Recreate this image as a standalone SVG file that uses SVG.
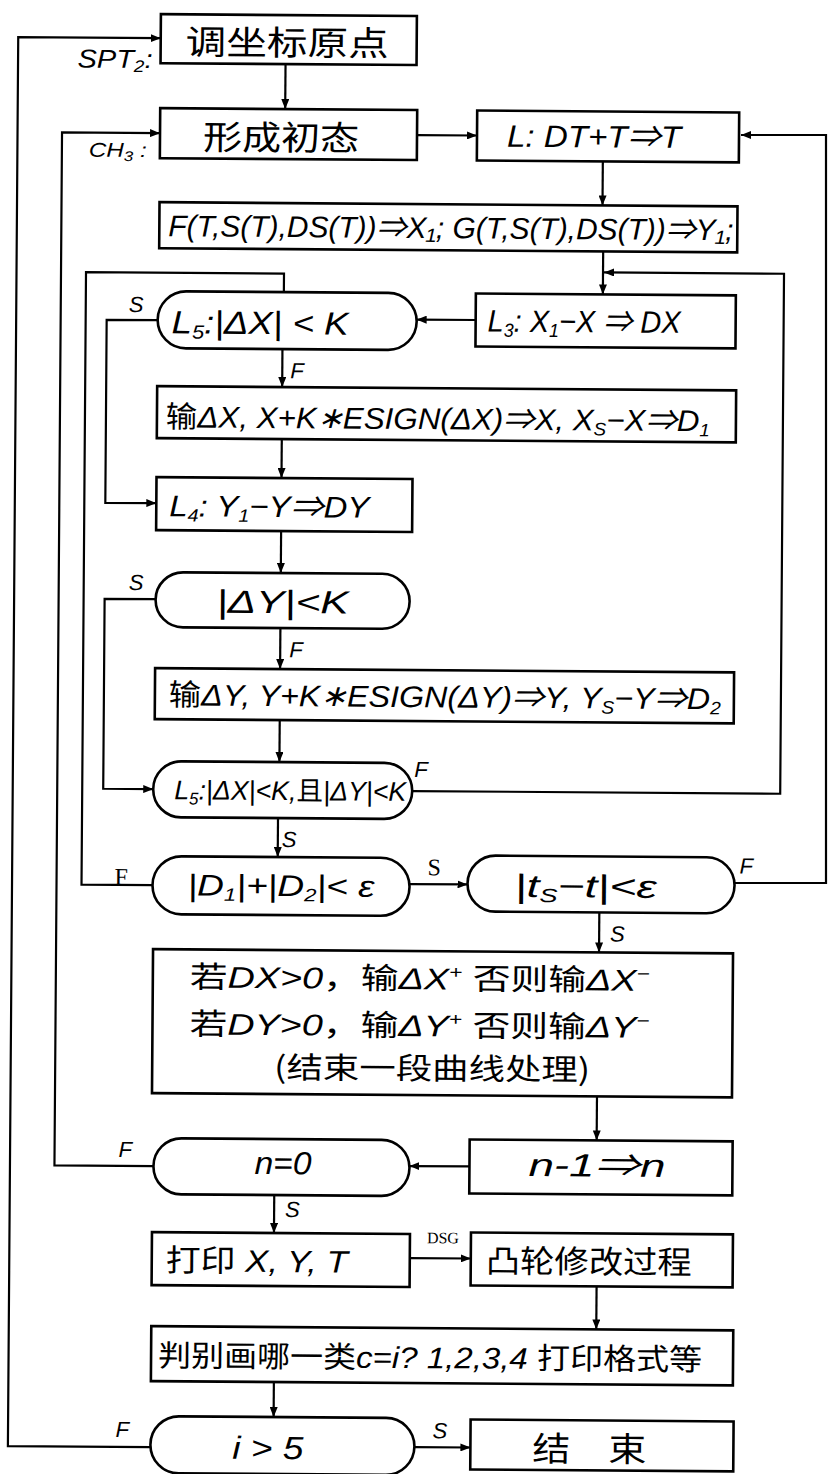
<svg xmlns="http://www.w3.org/2000/svg" width="828" height="1474" viewBox="0 0 828 1474">
<style>
.b{fill:#fff;stroke:#000;stroke-width:2.6}
.c{fill:none;stroke:#000;stroke-width:2.2}
.t{font-family:"Liberation Sans","Noto Sans CJK SC",sans-serif;font-style:italic;fill:#000}
.cj{font-family:"Noto Sans CJK SC",sans-serif;font-style:normal}
.l{font-family:"Liberation Sans",sans-serif;font-style:italic;font-size:22px;fill:#000}
.s{font-family:"Liberation Serif",serif;fill:#000}
</style>
<defs>
<marker id="a" viewBox="0 0 10 8" refX="10" refY="4" markerWidth="10" markerHeight="8" markerUnits="userSpaceOnUse" orient="auto">
<path d="M0,0 L10,4 L0,8 z" fill="#000"/>
</marker>
</defs>
<rect width="828" height="1474" fill="#fff"/>
<g transform="rotate(0.42)">
<g id="connectors">
<path class="c" d="M286,62 V107" marker-end="url(#a)"/>
<path class="c" d="M418,132 H478" marker-end="url(#a)"/>
<path class="c" d="M604,157 V201" marker-end="url(#a)"/>
<path class="c" d="M605,247 V290" marker-end="url(#a)"/>
<path class="c" d="M418,788 H786 V268 H606" marker-end="url(#a)"/>
<path class="c" d="M478,316.5 H419" marker-end="url(#a)"/>
<path class="c" d="M160,319 H109 V502 H160" marker-end="url(#a)"/>
<path class="c" d="M285,347 V385" marker-end="url(#a)"/>
<path class="c" d="M285,437 V476" marker-end="url(#a)"/>
<path class="c" d="M285,529 V571" marker-end="url(#a)"/>
<path class="c" d="M160,598 H109 V788 H159" marker-end="url(#a)"/>
<path class="c" d="M285,626 V667" marker-end="url(#a)"/>
<path class="c" d="M285,718 V760" marker-end="url(#a)"/>
<path class="c" d="M284,816 V855" marker-end="url(#a)"/>
<path class="c" d="M159,884 H88 V271.5 H286 V290"/>
<path class="c" d="M416,881 H474" marker-end="url(#a)"/>
<path class="c" d="M606,908 V948" marker-end="url(#a)"/>
<path class="c" d="M605,1092 V1136" marker-end="url(#a)"/>
<path class="c" d="M478,1163 H418" marker-end="url(#a)"/>
<path class="c" d="M162,1165 H63 V132 H161" marker-end="url(#a)"/>
<path class="c" d="M283,1193 V1231" marker-end="url(#a)"/>
<path class="c" d="M419,1255 H480" marker-end="url(#a)"/>
<path class="c" d="M606,1282 V1325" marker-end="url(#a)"/>
<path class="c" d="M284,1380 V1415" marker-end="url(#a)"/>
<path class="c" d="M161,1446 H18.5 V37 H161" marker-end="url(#a)"/>
<path class="c" d="M425,1444 H481" marker-end="url(#a)"/>
<text class="l" x="78" y="67" style="font-size:26px" textLength="75" lengthAdjust="spacingAndGlyphs">SPT<tspan style="font-size:17px" dy="4">2</tspan><tspan dy="-4">:</tspan></text>
<text class="l" x="90" y="156" style="font-size:20px" textLength="58" lengthAdjust="spacingAndGlyphs">CH<tspan style="font-size:14px" dy="4">3</tspan><tspan dy="-4"> :</tspan></text>
<text class="l" x="131" y="311">S</text>
<text class="l" x="293" y="376">F</text>
<text class="l" x="133" y="589">S</text>
<text class="l" x="294" y="655">F</text>
<text class="l" x="420" y="774">F</text>
<text class="l" x="288" y="845">S</text>
<text class="s" x="121" y="884" font-size="24">F</text>
<text class="s" x="434" y="872" font-size="24">S</text>
<text class="l" x="746" y="868">F</text>
<text class="l" x="617" y="937">S</text>
<text class="l" x="127" y="1156">F</text>
<text class="l" x="294" y="1215">S</text>
<text class="s" x="452" y="1240" font-size="16" text-anchor="middle">DSG</text>
<text class="l" x="126" y="1436">F</text>
<text class="l" x="443" y="1435">S</text>
</g>
<g id="n1"><rect class="b" x="161" y="13" width="256" height="49"/><text class="t cj" x="186" y="53" font-size="34" textLength="203" lengthAdjust="spacingAndGlyphs">调坐标原点</text></g>
<g id="n2"><rect class="b" x="161" y="107" width="257" height="50"/><text class="t cj" x="204" y="148" font-size="34" textLength="156" lengthAdjust="spacingAndGlyphs">形成初态</text></g>
<g id="n3"><rect class="b" x="478" y="107" width="262" height="50"/><text class="t" x="508" y="143" font-size="31" textLength="174" lengthAdjust="spacingAndGlyphs">L: DT+T⇒T</text></g>
<g id="n4"><rect class="b" x="161" y="201" width="578" height="46"/><text class="t" x="170" y="235" font-size="30" textLength="565" lengthAdjust="spacingAndGlyphs">F(T,S(T),DS(T))⇒X₁; G(T,S(T),DS(T))⇒Y₁;</text></g>
<g id="n5"><rect class="b" x="478" y="290" width="260" height="53"/><text class="t" x="490" y="328" font-size="31" textLength="193" lengthAdjust="spacingAndGlyphs">L<tspan font-size="19" dy="5">3</tspan><tspan dy="-5">: X</tspan><tspan font-size="19" dy="5">1</tspan><tspan dy="-5">−X ⇒ DX</tspan></text></g>
<g id="n6"><rect class="b" x="160" y="290" width="259" height="57" rx="28.5"/><text class="t" x="174" y="332" font-size="32" textLength="177" lengthAdjust="spacingAndGlyphs">L<tspan font-size="19" dy="5">5</tspan><tspan dy="-5">:|ΔX| &lt; K</tspan></text></g>
<g id="n7"><rect class="b" x="160" y="385" width="579" height="52"/><text class="t" x="169" y="426" font-size="30" textLength="544" lengthAdjust="spacingAndGlyphs"><tspan class="cj">输</tspan>ΔX, X+K∗ESIGN(ΔX)⇒X, X<tspan font-size="18" dy="5">S</tspan><tspan dy="-5">−X⇒D</tspan><tspan font-size="18" dy="5">1</tspan></text></g>
<g id="n8"><rect class="b" x="160" y="476" width="256" height="53"/><text class="t" x="173" y="515" font-size="30" textLength="200" lengthAdjust="spacingAndGlyphs">L<tspan font-size="18" dy="5">4</tspan><tspan dy="-5">: Y</tspan><tspan font-size="18" dy="5">1</tspan><tspan dy="-5">−Y⇒DY</tspan></text></g>
<g id="n9"><rect class="b" x="160" y="571" width="254" height="55" rx="27.5"/><text class="t" x="221" y="611" font-size="32" textLength="132" lengthAdjust="spacingAndGlyphs">|ΔY|&lt;K</text></g>
<g id="n10"><rect class="b" x="160" y="667" width="579" height="51"/><text class="t" x="174" y="704" font-size="30" textLength="552" lengthAdjust="spacingAndGlyphs"><tspan class="cj">输</tspan>ΔY, Y+K∗ESIGN(ΔY)⇒Y, Y<tspan font-size="18" dy="5">S</tspan><tspan dy="-5">−Y⇒D</tspan><tspan font-size="18" dy="5">2</tspan></text></g>
<g id="n11"><rect class="b" x="159" y="760" width="259" height="56" rx="28"/><text class="t" x="180" y="798" font-size="27" textLength="232" lengthAdjust="spacingAndGlyphs">L<tspan font-size="17" dy="5">5</tspan><tspan dy="-5">:|ΔX|&lt;K,</tspan><tspan class="cj">且</tspan>|ΔY|&lt;K</text></g>
<g id="n12"><rect class="b" x="159" y="855" width="257" height="58" rx="29"/><text class="t" x="194" y="894" font-size="30" textLength="187" lengthAdjust="spacingAndGlyphs">|D<tspan font-size="18" dy="5">1</tspan><tspan dy="-5">|+|D</tspan><tspan font-size="18" dy="5">2</tspan><tspan dy="-5">|&lt; ε</tspan></text></g>
<g id="n13"><rect class="b" x="474" y="852" width="267" height="56" rx="28"/><text class="t" x="521" y="893" font-size="32" textLength="142" lengthAdjust="spacingAndGlyphs">|t<tspan font-size="19" dy="5">S</tspan><tspan dy="-5">−t|&lt;ε</tspan></text></g>
<g id="n14"><rect class="b" x="160" y="948" width="580" height="144"/>
<text class="t" x="197" y="986" font-size="30" textLength="460" lengthAdjust="spacingAndGlyphs"><tspan class="cj">若</tspan>DX&gt;0<tspan class="cj">，输</tspan>ΔX<tspan font-size="18" dy="-11">+</tspan><tspan dy="11"> </tspan><tspan class="cj">否则输</tspan>ΔX<tspan font-size="18" dy="-11">−</tspan></text>
<text class="t" x="197" y="1033" font-size="30" textLength="460" lengthAdjust="spacingAndGlyphs"><tspan class="cj">若</tspan>DY&gt;0<tspan class="cj">，输</tspan>ΔY<tspan font-size="18" dy="-11">+</tspan><tspan dy="11"> </tspan><tspan class="cj">否则输</tspan>ΔY<tspan font-size="18" dy="-11">−</tspan></text>
<text class="t cj" x="282" y="1076" font-size="30" textLength="316" lengthAdjust="spacingAndGlyphs">(结束一段曲线处理)</text></g>
<g id="n15"><rect class="b" x="478" y="1136" width="263" height="54"/><text class="t" x="537" y="1172" font-size="32" textLength="137" lengthAdjust="spacingAndGlyphs">n-1⇒n</text></g>
<g id="n16"><rect class="b" x="162" y="1137" width="256" height="56" rx="28"/><text class="t" x="263" y="1172" font-size="32" textLength="57" lengthAdjust="spacingAndGlyphs">n=0</text></g>
<g id="n17"><rect class="b" x="161" y="1231" width="258" height="53"/><text class="t" x="175" y="1270" font-size="31" textLength="182" lengthAdjust="spacingAndGlyphs"><tspan class="cj">打印</tspan> X, Y, T</text></g>
<g id="n18"><rect class="b" x="480" y="1229" width="262" height="53"/><text class="t cj" x="495" y="1269" font-size="32" textLength="206" lengthAdjust="spacingAndGlyphs">凸轮修改过程</text></g>
<g id="n19"><rect class="b" x="161" y="1325" width="582" height="55"/><text class="t" x="168" y="1365" font-size="30" textLength="544" lengthAdjust="spacingAndGlyphs"><tspan class="cj">判别画哪一类</tspan>c=i? 1,2,3,4 <tspan class="cj">打印格式等</tspan></text></g>
<g id="n20"><rect class="b" x="161" y="1415" width="264" height="57" rx="28.5"/><text class="t" x="243" y="1457" font-size="32" textLength="71" lengthAdjust="spacingAndGlyphs">i &gt; 5</text></g>
<g id="n21"><rect class="b" x="481" y="1416" width="263" height="50"/><text class="t cj" x="543" y="1457" font-size="34" textLength="114" lengthAdjust="spacingAndGlyphs">结　束</text></g>
</g>
<g id="connectors-edge">
<path class="c" d="M735,883 H826 V135 H741" marker-end="url(#a)"/>
</g>
</svg>
